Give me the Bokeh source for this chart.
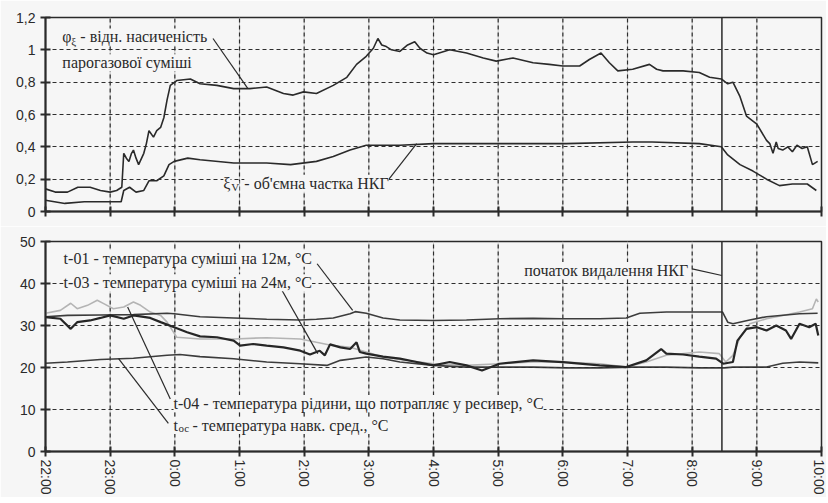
from bokeh.plotting import figure
from bokeh.models import FixedTicker, Label, Span, Range1d, CustomJSTickFormatter
from bokeh.layouts import column
from bokeh.embed import file_html
from bokeh.resources import INLINE

# ---------------- data ----------------
HOUR_TICKS = [0, 1, 2, 3, 4, 5, 6, 7, 8, 9, 10, 11, 12]
HOUR_LABELS = ["22:00", "23:00", "0:00", "1:00", "2:00", "3:00", "4:00",
               "5:00", "6:00", "7:00", "8:00", "9:00", "10:00"]
TOP_TICKS = [0, 0.2, 0.4, 0.6, 0.8, 1.0, 1.2]
BOT_TICKS = [0, 10, 20, 30, 40, 50]
EVENT_TIME = 10.46  # початок видалення НКГ (hours after 22:00)

PHI_T = [0.00, 0.15, 0.34, 0.50, 0.69, 0.85, 1.00, 1.10, 1.18, 1.21,
         1.25, 1.29, 1.33, 1.36, 1.40, 1.44, 1.52, 1.56, 1.60, 1.67,
         1.72, 1.78, 1.83, 1.88, 1.93, 2.03, 2.24, 2.39, 2.65, 2.91,
         3.16, 3.42, 3.68, 3.83, 3.99, 4.19, 4.45, 4.66, 4.81, 4.96,
         5.07, 5.14, 5.20, 5.27, 5.35, 5.48, 5.60, 5.71, 5.79, 5.90,
         6.00, 6.25, 6.51, 6.77, 6.97, 7.23, 7.54, 7.79, 8.00, 8.26,
         8.41, 8.59, 8.72, 8.85, 9.08, 9.34, 9.45, 9.55, 9.86, 10.11,
         10.27, 10.45, 10.55, 10.63, 10.74, 10.84, 11.00, 11.15, 11.20, 11.25,
         11.30, 11.33, 11.40, 11.48, 11.55, 11.62, 11.70, 11.78, 11.86, 11.94]
PHI = [0.14, 0.12, 0.12, 0.15, 0.15, 0.13, 0.12, 0.13, 0.15, 0.36,
       0.33, 0.31, 0.36, 0.38, 0.33, 0.29, 0.36, 0.42, 0.50, 0.46,
       0.50, 0.52, 0.58, 0.69, 0.78, 0.81, 0.82, 0.79, 0.78, 0.76,
       0.76, 0.77, 0.73, 0.72, 0.74, 0.73, 0.78, 0.83, 0.91, 0.96,
       1.01, 1.07, 1.03, 1.02, 1.00, 0.99, 1.03, 1.05, 1.01, 0.98,
       0.97, 1.00, 0.98, 0.95, 0.93, 0.95, 0.92, 0.91, 0.90, 0.90,
       0.94, 0.98, 0.92, 0.87, 0.88, 0.91, 0.88, 0.87, 0.87, 0.86,
       0.83, 0.82, 0.79, 0.80, 0.71, 0.59, 0.54, 0.44, 0.42, 0.36,
       0.43, 0.39, 0.38, 0.40, 0.37, 0.41, 0.39, 0.40, 0.29, 0.31]

XI_T = [0.00, 0.30, 0.60, 1.00, 1.17, 1.21, 1.30, 1.40, 1.52, 1.60,
        1.72, 1.83, 1.91, 1.99, 2.20, 2.39, 2.91, 3.42, 3.79, 4.19,
        4.45, 4.71, 4.96, 5.22, 5.48, 6.00, 7.02, 8.05, 9.08, 9.38,
        10.11, 10.45, 10.55, 10.74, 10.94, 11.15, 11.35, 11.55, 11.78, 11.92]
XI = [0.07, 0.05, 0.06, 0.06, 0.06, 0.13, 0.15, 0.12, 0.13, 0.19,
      0.19, 0.22, 0.29, 0.31, 0.33, 0.32, 0.30, 0.30, 0.29, 0.31,
      0.34, 0.38, 0.41, 0.41, 0.41, 0.42, 0.42, 0.42, 0.43, 0.43,
      0.42, 0.40, 0.35, 0.29, 0.25, 0.20, 0.16, 0.17, 0.17, 0.13]

T01_T = [0.00, 0.34, 0.85, 1.36, 1.88, 1.99, 2.39, 2.91, 3.42, 3.94,
         4.19, 4.45, 4.71, 4.79, 4.96, 5.22, 5.48, 6.00, 6.51, 7.02,
         7.54, 8.00, 8.57, 8.98, 9.19, 9.60, 10.11, 10.47, 10.55, 10.63,
         10.89, 11.15, 11.66, 11.94]
T01 = [32.1, 32.4, 32.5, 32.6, 32.9, 32.8, 32.1, 31.8, 31.5, 31.3,
       31.5, 31.8, 32.8, 33.3, 32.9, 31.8, 31.3, 31.2, 31.3, 31.6,
       31.7, 31.6, 31.6, 31.8, 32.9, 33.2, 33.2, 33.2, 30.8, 30.4,
       31.3, 32.1, 32.8, 32.9]

T03_T = [0.00, 0.23, 0.39, 0.49, 0.65, 0.80, 0.90, 1.05, 1.21, 1.36,
         1.47, 1.62, 1.78, 1.88, 2.03, 2.39, 2.91, 3.42, 3.94, 4.19,
         4.45, 4.71, 4.96, 5.22, 5.48, 6.00, 6.51, 7.02, 7.54, 8.00,
         8.57, 8.98, 9.29, 9.60, 10.11, 10.42, 10.52, 10.63, 10.74, 10.89,
         11.15, 11.40, 11.66, 11.86, 11.92, 11.95]
T03 = [32.9, 33.6, 35.3, 34.0, 34.8, 36.0, 35.2, 34.0, 34.4, 35.6,
       34.8, 33.2, 32.4, 30.8, 27.2, 26.8, 26.8, 27.1, 26.8, 26.0,
       25.2, 24.8, 23.7, 22.5, 21.9, 20.9, 20.5, 20.9, 21.3, 21.3,
       20.9, 20.1, 21.3, 22.9, 23.7, 23.3, 21.3, 22.9, 27.2, 30.4,
       31.6, 32.4, 33.2, 34.0, 36.3, 35.6]

T04_T = [0.00, 0.23, 0.39, 0.49, 0.69, 0.85, 1.00, 1.21, 1.36, 1.62,
         1.78, 1.99, 2.19, 2.39, 2.65, 2.91, 3.01, 3.21, 3.42, 3.68,
         3.94, 4.09, 4.24, 4.32, 4.40, 4.56, 4.71, 4.81, 4.86, 4.96,
         5.22, 5.48, 5.74, 6.00, 6.25, 6.51, 6.75, 7.02, 7.54, 8.00,
         8.57, 8.98, 9.29, 9.52, 9.60, 9.86, 10.11, 10.37, 10.48, 10.63,
         10.70, 10.84, 11.00, 11.15, 11.30, 11.45, 11.53, 11.66, 11.81, 11.91, 11.95]
T04 = [32.0, 31.6, 29.2, 30.8, 31.2, 31.8, 32.4, 31.6, 32.4, 31.8,
       30.8, 29.6, 28.4, 27.4, 27.2, 26.4, 25.2, 25.6, 25.2, 24.8,
       24.0, 23.1, 24.0, 22.9, 25.5, 24.8, 24.4, 26.0, 23.7, 23.3,
       22.6, 22.1, 21.3, 20.5, 21.3, 20.5, 19.3, 20.9, 21.7, 21.3,
       20.5, 20.1, 21.7, 24.4, 23.3, 23.1, 22.6, 22.1, 20.9, 21.3,
       26.4, 29.2, 29.6, 28.8, 30.0, 28.8, 26.8, 30.4, 29.6, 30.4, 27.6]

TOC_T = [0.00, 0.34, 0.85, 1.36, 1.88, 2.08, 2.39, 2.91, 3.42, 3.94,
         4.35, 4.56, 4.96, 5.22, 5.48, 6.00, 6.51, 7.02, 7.54, 8.05,
         8.57, 9.08, 9.60, 10.11, 10.50, 10.63, 11.15, 11.40, 11.66, 11.95]
TOC = [21.0, 21.3, 21.9, 22.2, 22.9, 23.1, 22.6, 22.1, 21.3, 20.9,
       20.5, 21.7, 22.5, 22.1, 21.3, 20.5, 20.1, 20.1, 20.1, 19.9,
       19.9, 20.1, 20.1, 19.9, 19.9, 20.1, 20.1, 21.0, 21.3, 21.1]

# leader lines of the annotations: (x0, y0, x1, y1)
TOP_LEADERS = [(2.59, 1.07, 3.13, 0.76), (5.29, 0.19, 5.74, 0.42)]
BOT_LEADERS = [(4.20, 44.7, 4.75, 33.6), (3.63, 39.1, 4.21, 23.3),
               (1.93, 12.5, 1.27, 34.4), (1.90, 6.7, 1.13, 22.1),
               (10.00, 43.5, EVENT_TIME, 41.9)]

# ---------------- style ----------------
BG = "#f6f6f6"
INK = "#2a2a2a"
GRID = "#2e2e2e"
SERIF = "Liberation Serif"
SANS = "Liberation Sans"
FS = "14px"
LFS = "16px"
SUB = "11px"


def base_fig(height, ymax, yticks, border_top, border_bottom):
    p = figure(width=826, height=height,
               output_backend="svg", toolbar_location=None,
               x_range=Range1d(0, 12), y_range=Range1d(0, ymax),
               min_border_left=45, min_border_right=5,
               min_border_top=border_top, min_border_bottom=border_bottom,
               background_fill_color=BG, border_fill_color=BG)
    p.outline_line_color = INK
    p.outline_line_width = 1.5
    for ax in (p.xaxis, p.yaxis):
        ax.axis_line_width = 2
        ax.axis_line_color = INK
        ax.major_tick_line_color = INK
        ax.major_tick_line_width = 2
        ax.major_tick_in = 5
        ax.major_tick_out = 5
        ax.minor_tick_line_color = None
        ax.major_label_text_font = SANS
        ax.major_label_text_font_size = FS
        ax.major_label_text_color = INK
    p.xaxis.ticker = FixedTicker(ticks=HOUR_TICKS)
    p.yaxis.ticker = FixedTicker(ticks=yticks)
    # horizontal grid
    p.xgrid.visible = False
    p.ygrid.ticker = FixedTicker(ticks=yticks)
    p.ygrid.grid_line_color = GRID
    p.ygrid.grid_line_width = 1.2
    p.ygrid.grid_line_dash = "4 3"
    p.ygrid.level = "glyph"
    # vertical grid at the hour ticks: faint solid base + dashed overlay
    inner = HOUR_TICKS[1:-1]
    n = len(inner)
    p.segment(x0=inner, x1=inner, y0=[0] * n, y1=[ymax] * n,
              line_color="#c4c4c4", line_width=1)
    p.segment(x0=inner, x1=[t + 0.0004 for t in inner], y0=[0] * n, y1=[ymax] * n,
              line_color=GRID, line_width=1.2, line_dash="4 3")
    p.add_layout(Span(location=EVENT_TIME, dimension="height",
                      line_color=INK, line_width=1.5))
    return p


def add_label(p, x, y, text, size=LFS, x_offset=0, y_offset=0, align="left"):
    p.add_layout(Label(x=x, y=y, text=text, x_offset=x_offset, y_offset=y_offset,
                       text_font=SERIF, text_font_size=size, text_color=INK,
                       text_baseline="middle", text_align=align,
                       background_fill_color=BG))


# ---------------- top panel ----------------
top = base_fig(226, 1.2, TOP_TICKS, 17, 15)
top.yaxis.formatter = CustomJSTickFormatter(
    code="return (Math.round(tick*10)/10).toString().replace('.', ',');")
top.xaxis.major_label_overrides = {t: "" for t in HOUR_TICKS}
top.xaxis.major_label_standoff = 0

top.line(PHI_T, PHI, line_color=INK, line_width=1.6)
top.line(XI_T, XI, line_color=INK, line_width=1.6)
for x0, y0, x1, y1 in TOP_LEADERS:
    top.line([x0, x1], [y0, y1], line_color=INK, line_width=1.2)

add_label(top, 0.26, 1.08, "φ")
add_label(top, 0.26, 1.08, "ξ", size=SUB, x_offset=9, y_offset=-4)
add_label(top, 0.26, 1.08, "- відн. насиченість", x_offset=18)
add_label(top, 0.26, 0.92, "парогазової суміші")
add_label(top, 2.75, 0.175, "ξ")
add_label(top, 2.75, 0.175, "V", size=SUB, x_offset=8, y_offset=-4)
add_label(top, 2.75, 0.175, "- об'ємна частка НКГ", x_offset=21)

# ---------------- bottom panel ----------------
bot = base_fig(271, 50, BOT_TICKS, 15, 45)
bot.xaxis.major_label_overrides = dict(zip(HOUR_TICKS, HOUR_LABELS))
bot.xaxis.major_label_orientation = "vertical"
bot.xaxis.major_label_standoff = 3

bot.line(T03_T, T03, line_color="#b4b4b4", line_width=1.6)
bot.line(T01_T, T01, line_color="#3c3c3c", line_width=1.6)
bot.line(TOC_T, TOC, line_color="#3c3c3c", line_width=1.6)
bot.line(T04_T, T04, line_color="#262626", line_width=2.2)
for x0, y0, x1, y1 in BOT_LEADERS:
    bot.line([x0, x1], [y0, y1], line_color=INK, line_width=1.2)

add_label(bot, 0.28, 46.0, "t-01 - температура суміші на 12м, °C")
add_label(bot, 0.28, 40.2, "t-03 - температура суміші на 24м, °C")
add_label(bot, 1.98, 11.4, "t-04 - температура рідини, що потрапляє у ресивер, °C")
add_label(bot, 1.98, 6.2, "t")
add_label(bot, 1.98, 6.2, "ос", size=SUB, x_offset=5, y_offset=-3)
add_label(bot, 1.98, 6.2, "- температура навк. сред., °C", x_offset=19)
add_label(bot, 9.94, 43.1, "початок видалення НКГ", align="right")

layout = column(top, bot, spacing=0)
open("out.html", "w").write(file_html(layout, INLINE))
